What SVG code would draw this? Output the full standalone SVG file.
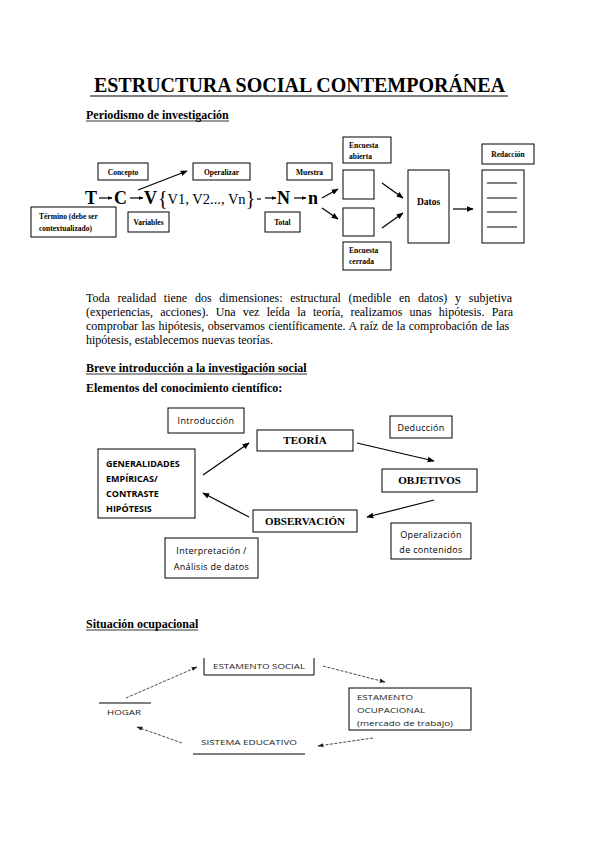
<svg xmlns="http://www.w3.org/2000/svg" width="599" height="848" viewBox="0 0 599 848">
<defs>
<marker id="ah" viewBox="0 0 10 10" refX="9" refY="5" markerWidth="7" markerHeight="7" orient="auto" markerUnits="userSpaceOnUse"><path d="M0,1 L10,5 L0,9 z" fill="#000"/></marker>
<marker id="ahs" viewBox="0 0 10 10" refX="9" refY="5" markerWidth="5" markerHeight="5" orient="auto" markerUnits="userSpaceOnUse"><path d="M0,1 L10,5 L0,9 z" fill="#000"/></marker>
<marker id="ahd" viewBox="0 0 10 10" refX="9" refY="5" markerWidth="6" markerHeight="6" orient="auto" markerUnits="userSpaceOnUse"><path d="M0,1.5 L10,5 L0,8.5 z" fill="#222"/></marker>
</defs>
<style>
.bx{fill:none;stroke:#000;stroke-width:1}
.ln{stroke:#000;stroke-width:1.2;fill:none}
.dl{stroke:#333;stroke-width:0.9;stroke-dasharray:3 1.5;fill:none}
.serif{font-family:"Liberation Serif","Times New Roman",serif;fill:#000}
.tb{font-family:"Liberation Serif","Times New Roman",serif;font-weight:bold;font-size:7.5px;fill:#000}
.sans{font-family:"Open Sans","Noto Sans",sans-serif;font-size:9px;fill:#000;letter-spacing:0.3px}
.sansb{font-family:"Open Sans","Noto Sans",sans-serif;font-size:9px;font-weight:bold;fill:#000}
.cal{font-family:"Open Sans","Noto Sans",sans-serif;font-size:7.5px;fill:#222}
.h{font-family:"Liberation Serif","Times New Roman",serif;font-weight:bold;font-size:12px;fill:#000}
.eq{font-family:"Liberation Serif","Times New Roman",serif;font-weight:bold;font-size:18px;fill:#000}
.b11{font-family:"Liberation Serif","Times New Roman",serif;font-weight:bold;font-size:11px;fill:#000}
.p{font-family:"Liberation Serif","Times New Roman",serif;font-size:12px;fill:#000}
</style>
<rect width="599" height="848" fill="#fff"/>

<g id="headings">
<text x="299.5" y="92" text-anchor="middle" class="serif" font-size="20" font-weight="bold">ESTRUCTURA SOCIAL CONTEMPORÁNEA</text>
<line x1="90" y1="96" x2="508" y2="96" stroke="#000" stroke-width="1.2"/>
<text x="86" y="119" class="h">Periodismo de investigación</text>
<line x1="86" y1="121" x2="229" y2="121" stroke="#000" stroke-width="0.8"/>
<text x="86" y="372" class="h">Breve introducción a la investigación social</text>
<line x1="86" y1="374" x2="307" y2="374" stroke="#000" stroke-width="0.8"/>
<text x="86" y="392" class="h">Elementos del conocimiento científico:</text>
<text x="86" y="628" class="h">Situación ocupacional</text>
<line x1="86" y1="630" x2="198" y2="630" stroke="#000" stroke-width="0.8"/>
</g>

<g id="paragraph">
<text x="86" y="302" class="p" word-spacing="4.7">Toda realidad tiene dos dimensiones: estructural (medible en datos) y subjetiva</text>
<text x="86" y="316" class="p" word-spacing="4.18">(experiencias, acciones). Una vez leída la teoría, realizamos unas hipótesis. Para</text>
<text x="86" y="330" class="p" word-spacing="0.58">comprobar las hipótesis, observamos científicamente. A raíz de la comprobación de las</text>
<text x="86" y="344" class="p">hipótesis, establecemos nuevas teorías.</text>
</g>

<g id="equation">
<text x="85" y="204" class="eq">T</text>
<text x="114" y="204" class="eq">C</text>
<text x="144" y="204" class="eq">V</text>
<text x="158" y="205" class="serif" font-size="20">{<tspan font-size="14.5" dy="-1">V1, V2..., Vn</tspan><tspan dy="1">}</tspan></text>
<text x="277" y="204" class="eq">N</text>
<text x="308" y="204" class="eq">n</text>
</g>

<g id="n-concepto"><rect x="98" y="163" width="50" height="17" class="bx"/><text x="123" y="175" text-anchor="middle" class="tb">Concepto</text></g>
<g id="n-operalizar"><rect x="193" y="163" width="57" height="17" class="bx"/><text x="221.5" y="175" text-anchor="middle" class="tb">Operalizar</text></g>
<g id="n-muestra"><rect x="287" y="163" width="45" height="17" class="bx"/><text x="309.5" y="175" text-anchor="middle" class="tb">Muestra</text></g>
<g id="n-termino"><rect x="31" y="207" width="85" height="30" class="bx"/><text x="39" y="219" class="tb">Término (debe ser</text><text x="39" y="231" class="tb">contextualizado)</text></g>
<g id="n-variables"><rect x="128" y="212" width="41" height="20" class="bx"/><text x="148.5" y="225" text-anchor="middle" class="tb">Variables</text></g>
<g id="n-total"><rect x="265" y="212" width="35" height="20" class="bx"/><text x="282.5" y="225" text-anchor="middle" class="tb">Total</text></g>
<g id="n-abierta"><rect x="343" y="137" width="48" height="26" class="bx"/><text x="349" y="148" class="tb">Encuesta</text><text x="349" y="159" class="tb">abierta</text></g>
<g id="n-box1"><rect x="343" y="170" width="31" height="29" class="bx"/></g>
<g id="n-box2"><rect x="343" y="208" width="31" height="28" class="bx"/></g>
<g id="n-cerrada"><rect x="343" y="242" width="48" height="28" class="bx"/><text x="349" y="253" class="tb">Encuesta</text><text x="349" y="264" class="tb">cerrada</text></g>
<g id="n-datos"><rect x="408" y="170" width="41" height="73" class="bx"/><text x="428.5" y="205" text-anchor="middle" class="serif" font-size="9.5" font-weight="bold">Datos</text></g>
<g id="n-redaccion"><rect x="482" y="144" width="52" height="20" class="bx"/><text x="508" y="157" text-anchor="middle" class="tb">Redacción</text></g>
<g id="n-doc"><rect x="482" y="170" width="42" height="73" class="bx"/>
<line x1="487" y1="183" x2="517" y2="183" stroke="#000"/><line x1="487" y1="198" x2="517" y2="198" stroke="#000"/><line x1="487" y1="212" x2="517" y2="212" stroke="#000"/><line x1="487" y1="227" x2="517" y2="227" stroke="#000"/></g>

<g id="n-introduccion"><rect x="168" y="408" width="76" height="25" class="bx"/><text x="206" y="424" text-anchor="middle" class="sans">Introducción</text></g>
<g id="n-teoria"><rect x="257" y="430" width="96" height="21" class="bx"/><text x="305" y="444" text-anchor="middle" class="b11">TEORÍA</text></g>
<g id="n-deduccion"><rect x="390" y="416" width="62" height="22" class="bx"/><text x="421" y="431" text-anchor="middle" class="sans">Deducción</text></g>
<g id="n-objetivos"><rect x="382" y="469" width="95" height="23" class="bx"/><text x="429.5" y="484" text-anchor="middle" class="b11">OBJETIVOS</text></g>
<g id="n-observacion"><rect x="253" y="510" width="104" height="22" class="bx"/><text x="305" y="525" text-anchor="middle" class="b11">OBSERVACIÓN</text></g>
<g id="n-operalizacion"><rect x="391" y="523" width="80" height="36" class="bx"/><text x="431" y="538" text-anchor="middle" class="sans">Operalización</text><text x="431" y="553" text-anchor="middle" class="sans">de contenidos</text></g>
<g id="n-interpretacion"><rect x="165" y="538" width="93" height="40" class="bx"/><text x="211.5" y="554" text-anchor="middle" class="sans">Interpretación /</text><text x="211.5" y="570" text-anchor="middle" class="sans">Análisis de datos</text></g>
<g id="n-generalidades"><rect x="98" y="449" width="97" height="69" class="bx"/>
<text x="106" y="467" class="sansb">GENERALIDADES</text><text x="106" y="482" class="sansb">EMPÍRICAS/</text><text x="106" y="497" class="sansb">CONTRASTE</text><text x="106" y="512" class="sansb">HIPÓTESIS</text></g>

<g id="n-estamento-social"><path d="M204,658 V675 H314 V658" class="bx"/><text x="213" y="669" class="cal" textLength="92" lengthAdjust="spacingAndGlyphs">ESTAMENTO SOCIAL</text></g>
<g id="n-estamento-ocupacional"><rect x="349" y="688" width="122" height="42" class="bx"/>
<text x="357" y="700" class="cal" textLength="56" lengthAdjust="spacingAndGlyphs">ESTAMENTO</text>
<text x="357" y="713" class="cal" textLength="68" lengthAdjust="spacingAndGlyphs">OCUPACIONAL</text>
<text x="357" y="726" class="cal" textLength="96" lengthAdjust="spacingAndGlyphs">(mercado de trabajo)</text></g>
<g id="n-sistema-educativo"><text x="201" y="745" class="cal" textLength="96" lengthAdjust="spacingAndGlyphs">SISTEMA EDUCATIVO</text><line x1="193" y1="754" x2="305" y2="754" stroke="#000"/></g>
<g id="n-hogar"><line x1="99" y1="703" x2="151" y2="703" stroke="#000"/><text x="107" y="715" class="cal" textLength="34" lengthAdjust="spacingAndGlyphs">HOGAR</text></g>

<g id="connectors">
<line x1="99" y1="198" x2="112" y2="198" class="ln" marker-end="url(#ahs)"/>
<line x1="130" y1="198" x2="143" y2="198" class="ln" marker-end="url(#ahs)"/>
<line x1="257" y1="199" x2="261" y2="199" class="ln"/>
<line x1="265" y1="198" x2="276" y2="198" class="ln" marker-end="url(#ahs)"/>
<line x1="294" y1="198" x2="306" y2="198" class="ln" marker-end="url(#ahs)"/>
<line x1="138" y1="190" x2="187" y2="171" class="ln" marker-end="url(#ah)"/>
<line x1="322" y1="198" x2="338" y2="189" class="ln" marker-end="url(#ah)"/>
<line x1="322" y1="208" x2="338" y2="219" class="ln" marker-end="url(#ah)"/>
<line x1="382" y1="183" x2="403" y2="198" class="ln" marker-end="url(#ah)"/>
<line x1="382" y1="228" x2="403" y2="213" class="ln" marker-end="url(#ah)"/>
<line x1="453" y1="209" x2="473" y2="209" class="ln" marker-end="url(#ah)"/>
<line x1="203" y1="475" x2="249" y2="443" class="ln" marker-end="url(#ah)"/>
<line x1="357" y1="443" x2="434" y2="461" class="ln" marker-end="url(#ah)"/>
<line x1="434" y1="500" x2="367" y2="517" class="ln" marker-end="url(#ah)"/>
<line x1="249" y1="517" x2="203" y2="493" class="ln" marker-end="url(#ah)"/>
<line x1="323" y1="666" x2="385" y2="682" class="dl" marker-end="url(#ahd)"/>
<line x1="373" y1="738" x2="318" y2="746" class="dl" marker-end="url(#ahd)"/>
<line x1="182" y1="743" x2="137" y2="727" class="dl" marker-end="url(#ahd)"/>
<line x1="126" y1="698" x2="197" y2="667" class="dl" marker-end="url(#ahd)"/>
</g>
</svg>
